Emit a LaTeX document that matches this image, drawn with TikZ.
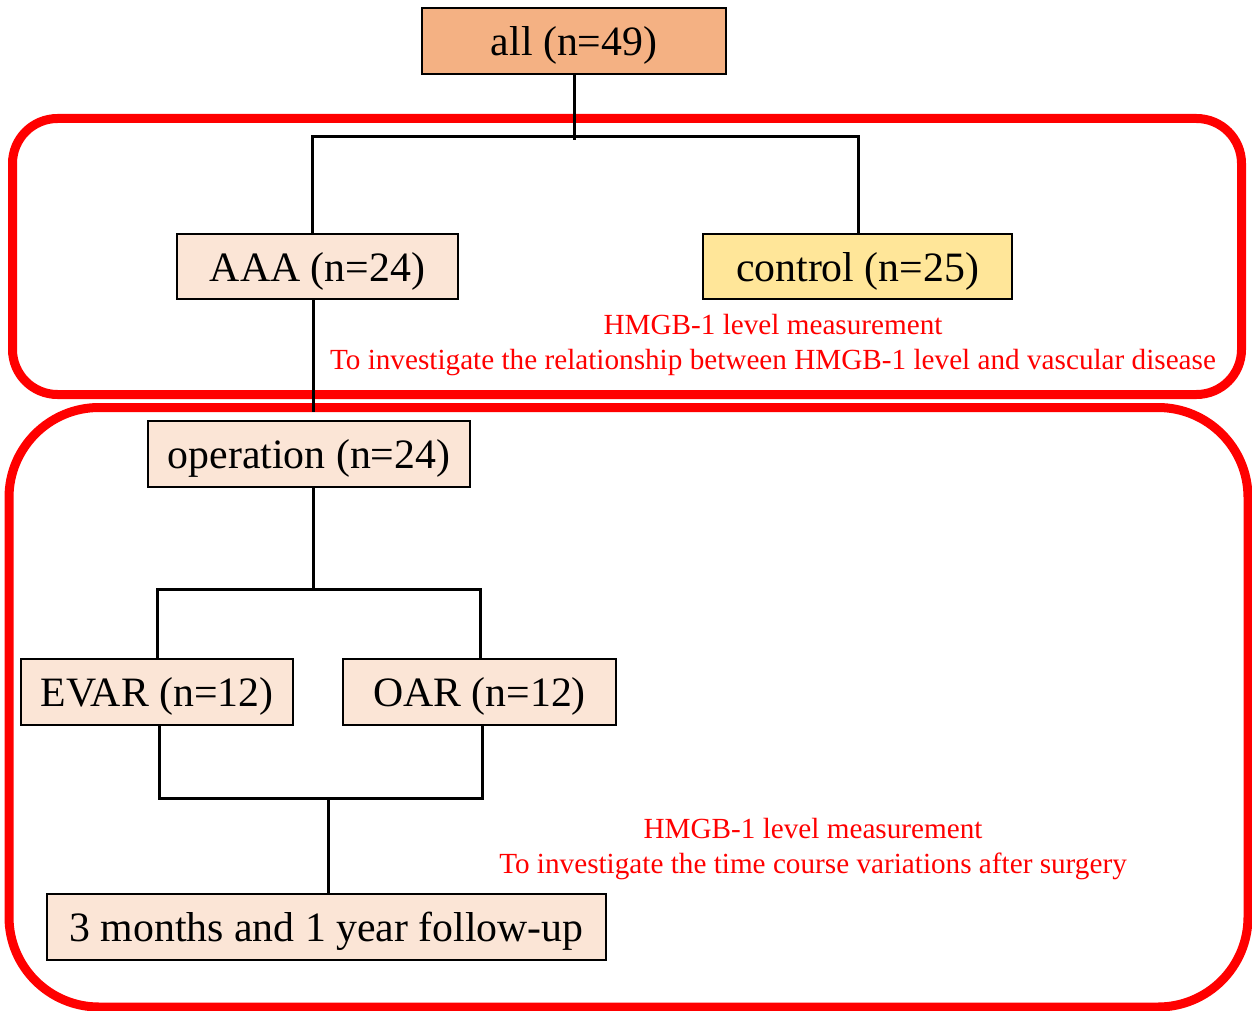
\documentclass[tikz,border=0pt]{standalone}
\usepackage{fontspec}
\setmainfont{Liberation Serif}
\definecolor{allfill}{HTML}{F4B183}
\definecolor{palefill}{HTML}{FBE5D6}
\definecolor{yelfill}{HTML}{FFE699}
\definecolor{redline}{HTML}{FF0000}
\begin{document}
\begin{tikzpicture}[x=1pt,y=-1pt,
  box/.style={draw=black,line width=2pt,inner sep=0pt,text depth=0pt,font=\fontsize{41.8}{50}\selectfont,text=black},
  conn/.style={draw=black,line width=3pt},
  frame/.style={draw=redline,line width=9pt},
  note/.style={text=redline,align=center,inner sep=0pt,font=\fontsize{29.2}{35}\selectfont}]
\useasboundingbox (0,0) rectangle (1252,1011);
% red frames
\draw[frame,rounded corners=45pt] (12.5,118.5) rectangle (1241.5,394.5);
\draw[frame,rounded corners=90pt] (9,407.5) rectangle (1248,1007);
% boxes
\node[box,fill=allfill,minimum width=304pt,minimum height=66pt] (all) at (574,41) {all (n=49)};
\node[box,fill=palefill,minimum width=281pt,minimum height=65pt] (aaa) at (317.5,266.5) {AAA (n=24)};
\node[box,fill=yelfill,minimum width=309pt,minimum height=65pt] (ctrl) at (857.5,266.5) {control (n=25)};
\node[box,fill=palefill,minimum width=322pt,minimum height=66pt] (op) at (309,454) {operation (n=24)};
\node[box,fill=palefill,minimum width=272pt,minimum height=66pt] (evar) at (157,692) {EVAR (n=12)};
\node[box,fill=palefill,minimum width=273pt,minimum height=66pt] (oar) at (479.5,692) {OAR (n=12)};
\node[box,fill=palefill,minimum width=559pt,minimum height=66pt] (fu) at (326.5,927) {3 months and 1 year follow-up};
% junction coordinates
\coordinate (jall) at (574,140);
\coordinate (ja) at (312,137);
\coordinate (jc) at (858,137);
\coordinate (jx) at (313,412);
\coordinate (jo) at (313,589);
\coordinate (je) at (157,589);
\coordinate (jr) at (480,589);
\coordinate (kb1) at (159,798);
\coordinate (kb2) at (482,798);
\coordinate (kf) at (328,798);
% connectors
\draw[conn] (all.south) -- (jall);
\draw[conn] (aaa.north -| ja) -- (ja) -- (jc) -- (ctrl.north -| jc);
\draw[conn] (aaa.south -| jx) -- (jx);
\draw[conn] (op.south -| jo) -- (jo);
\draw[conn] (evar.north -| je) -- (je) -- (jr) -- (oar.north -| jr);
\draw[conn] (evar.south -| kb1) -- (kb1) -- (kb2) -- (oar.south -| kb2);
\draw[conn] (kf) -- (fu.north -| kf);
% notes
\node[note] (n1) at (773,345) {HMGB-1 level measurement\\To investigate the relationship between HMGB-1 level and vascular disease};
\node[note] (n2) at (813,849) {HMGB-1 level measurement\\To investigate the time course variations after surgery};
\end{tikzpicture}
\end{document}
